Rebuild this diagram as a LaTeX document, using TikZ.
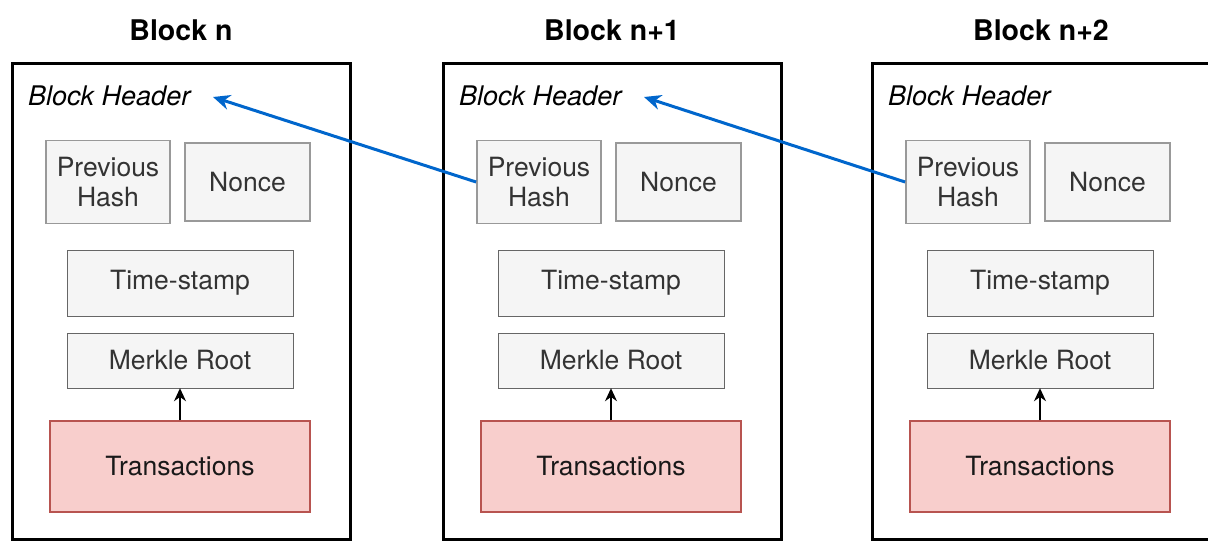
\documentclass[tikz,border=0pt]{standalone}
\usepackage{fontspec}
\setmainfont{TeX Gyre Heros}
\usetikzlibrary{arrows.meta}
\definecolor{boxfill}{HTML}{F5F5F5}
\definecolor{boxline}{HTML}{666666}
\definecolor{txfill}{HTML}{F8CECC}
\definecolor{txline}{HTML}{B85450}
\definecolor{linkblue}{HTML}{0066CC}
\tikzset{
    field/.style={draw=boxline,fill=boxfill,text=black!80,inner sep=0pt,align=center,font=\fontsize{26.5}{30}\selectfont},
    hashfield/.style={field,draw=black!40,line width=1.8pt},
    txbox/.style={field,draw=txline,fill=txfill,text=black!90,line width=1.2pt},
    blockbox/.style={draw=black,line width=3pt,inner sep=0pt},
    link/.style={linkblue,line width=3pt,-{Stealth[length=17pt,width=15pt]}},
}

\begin{document}
\begin{tikzpicture}[x=1pt,y=-1pt]
    \useasboundingbox (0,0) rectangle (1208,541);
    \foreach \i/\o/\t in {0/0/n, 1/431/n+1, 2/860/n+2}{
        \begin{scope}[xshift=\o pt]
            \node[blockbox,minimum width=338pt,minimum height=476pt] (blk\i) at (181,301) {};
            \node[font=\bfseries\fontsize{28.5}{32}\selectfont] (ttl\i) at (181,30) {Block \t};
            \node[anchor=west,inner sep=0pt,font=\itshape\fontsize{27}{31}\selectfont] (hd\i) at (28,96) {Block Header};
            \coordinate (in\i) at (213,97);
            \node[hashfield,minimum width=124pt,minimum height=83pt] (prev\i) at (108,182) {Previous\\Hash};
            \node[hashfield,minimum width=125pt,minimum height=78pt] (nonce\i) at (247.5,182) {Nonce};
            \node[field,minimum width=226pt,minimum height=66pt] (time\i) at (180,283) {Time-stamp};
            \node[field,minimum width=226pt,minimum height=55pt] (root\i) at (180,360.5) {Merkle Root};
            \node[txbox,minimum width=260pt,minimum height=91pt] (tx\i) at (180,466.5) {Transactions};
        \end{scope}
        \draw[line width=1.5pt,-{Stealth[length=13pt,width=12pt]}] (tx\i.north) -- (root\i.south);
    }
    % each block points back to the header before it
    \draw[link] (prev1.west) -- (in0);
    \draw[link] (prev2.west) -- (in1);
\end{tikzpicture}
\end{document}
